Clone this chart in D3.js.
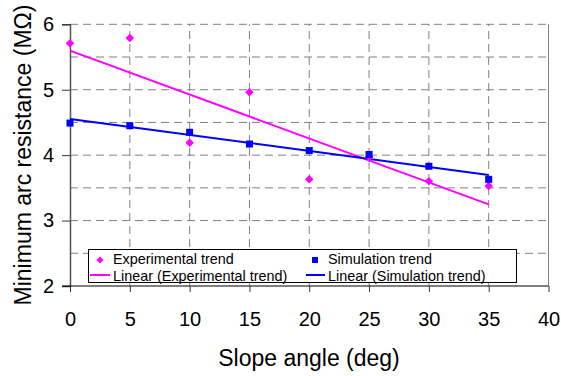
<!DOCTYPE html>
<html><head><meta charset="utf-8">
<script src="https://cdn.jsdelivr.net/npm/d3@7"></script>
<style>body{margin:0;background:#fff}svg{display:block}svg text{font-family:Arial,"Liberation Sans",sans-serif}</style>
</head><body>
<svg id="c" width="561" height="376"></svg>
<script>
const angles = [0, 5, 10, 15, 20, 25, 30, 35];
const experimental = [5.71, 5.79, 4.19, 4.96, 3.63, 3.97, 3.60, 3.53];
const simulation = [4.49, 4.45, 4.35, 4.17, 4.07, 4.01, 3.83, 3.63];
const xTicks = [0, 5, 10, 15, 20, 25, 30, 35, 40];
const yTicks = [2, 3, 4, 5, 6];
const yGrid = [2.5, 3, 3.5, 4, 4.5, 5, 5.5, 6];
const legendLabels = ["Experimental trend", "Simulation trend", "Linear (Experimental trend)", "Linear (Simulation trend)"];

const svg = d3.select("#c");
const x = d3.scaleLinear().domain([0, 40]).range([70, 548.5]);
const y = d3.scaleLinear().domain([2, 6]).range([286, 24.3]);

function fit(xs, ys) {
  const mx = d3.mean(xs), my = d3.mean(ys);
  let sxy = 0, sxx = 0;
  xs.forEach((v, i) => { sxy += (v - mx) * (ys[i] - my); sxx += (v - mx) ** 2; });
  const b = sxy / sxx, a = my - b * mx;
  return v => a + b * v;
}

// grid
svg.append("g").selectAll("line").data(yGrid).join("line")
  .attr("x1", x(0)).attr("x2", x(40)).attr("y1", d => y(d)).attr("y2", d => y(d))
  .attr("stroke", "#808080").attr("stroke-width", 1).attr("stroke-dasharray", "8,5");
svg.append("g").selectAll("line").data(xTicks.slice(1, -1)).join("line")
  .attr("x1", d => x(d)).attr("x2", d => x(d)).attr("y1", y(2)).attr("y2", y(6))
  .attr("stroke", "#808080").attr("stroke-width", 1).attr("stroke-dasharray", "8,5");
svg.append("line").attr("x1", x(40)).attr("x2", x(40)).attr("y1", y(2)).attr("y2", y(6))
  .attr("stroke", "#808080").attr("stroke-width", 1);

// axes
const yAxis = svg.append("g").attr("transform", `translate(${x(0)},0)`)
  .call(d3.axisLeft(y).tickValues(yTicks).tickSize(8).tickPadding(8).tickFormat(d3.format("d")));
yAxis.select(".domain").attr("stroke", "#555").attr("stroke-width", 1.5);
yAxis.selectAll(".tick line").attr("stroke", "#333");
yAxis.selectAll("text").attr("font-size", 20).attr("fill", "#000");

const xAxis = svg.append("g").attr("transform", `translate(0,${y(2)})`)
  .call(d3.axisBottom(x).tickValues(xTicks).tickSize(6).tickPadding(20).tickFormat(d3.format("d")));
xAxis.select(".domain").attr("stroke", "#000").attr("stroke-width", 1.2).attr("d", `M${x(0) - 8},0H${x(40)}`);
xAxis.selectAll(".tick line").attr("stroke", "#333");
xAxis.selectAll("text").attr("font-size", 20).attr("fill", "#000");

// trend lines
const fe = fit(angles, experimental), fs = fit(angles, simulation);
const line = d3.line().x(d => x(d[0])).y(d => y(d[1]));
svg.append("path").attr("d", line([[0, fe(0)], [35, fe(35)]])).attr("stroke", "#FF00FF").attr("stroke-width", 2).attr("fill", "none");
svg.append("path").attr("d", line([[0, fs(0)], [35, fs(35)]])).attr("stroke", "#0000FF").attr("stroke-width", 2).attr("fill", "none");

// markers
svg.append("g").selectAll("rect").data(angles).join("rect")
  .attr("transform", (d, i) => `translate(${x(d)},${y(experimental[i])}) rotate(45)`)
  .attr("x", -3).attr("y", -3).attr("width", 6).attr("height", 6).attr("fill", "#FF00FF");
svg.append("g").selectAll("rect").data(angles).join("rect")
  .attr("x", d => x(d) - 3.5).attr("y", (d, i) => y(simulation[i]) - 3.5)
  .attr("width", 7).attr("height", 7).attr("fill", "#0000FF");

// legend
const lg = svg.append("g");
lg.append("rect").attr("x", 88.5).attr("y", 249.5).attr("width", 428).attr("height", 33)
  .attr("fill", "#fff").attr("stroke", "#000").attr("stroke-width", 1);
lg.append("rect").attr("transform", "translate(100,260) rotate(45)").attr("x", -2.5).attr("y", -2.5)
  .attr("width", 5).attr("height", 5).attr("fill", "#FF00FF");
lg.append("rect").attr("x", 312).attr("y", 257).attr("width", 6).attr("height", 6).attr("fill", "#0000FF");
lg.append("line").attr("x1", 90).attr("x2", 110).attr("y1", 275).attr("y2", 275).attr("stroke", "#FF00FF").attr("stroke-width", 2);
lg.append("line").attr("x1", 306).attr("x2", 325).attr("y1", 275).attr("y2", 275).attr("stroke", "#0000FF").attr("stroke-width", 2);
const lpos = [[113, 264], [328, 264], [113, 280.5], [328, 280.5]];
lg.selectAll("text").data(legendLabels).join("text")
  .attr("x", (d, i) => lpos[i][0]).attr("y", (d, i) => lpos[i][1])
  .attr("font-size", 14.4).attr("fill", "#000").text(d => d);

// axis titles
svg.append("text").attr("x", 309).attr("y", 366).attr("text-anchor", "middle")
  .attr("font-size", 23).text("Slope angle (deg)");
svg.append("text").attr("transform", "translate(31,155) rotate(-90)").attr("text-anchor", "middle")
  .attr("font-size", 23).text("Minimum arc resistance (MΩ)");
</script>
</body></html>
